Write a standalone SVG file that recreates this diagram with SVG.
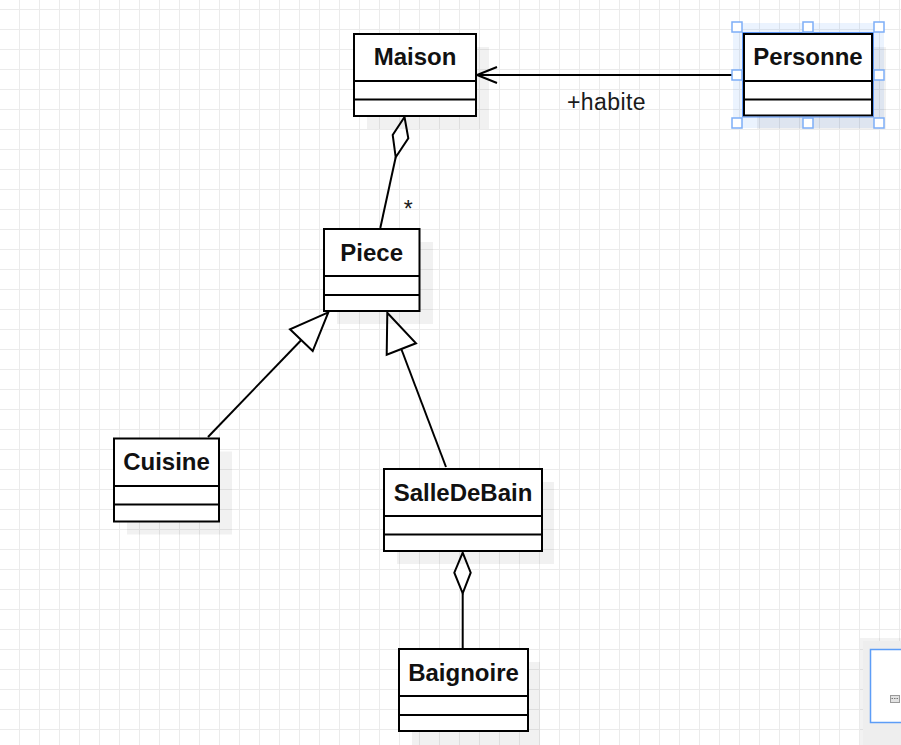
<svg xmlns="http://www.w3.org/2000/svg" width="901" height="745" viewBox="0 0 901 745">
<defs>
<pattern id="grid" patternUnits="userSpaceOnUse" x="0" y="0" width="20" height="20">
<path d="M19.5 0V20M0 9.5H20" stroke="#ebebeb" stroke-width="1" fill="none"/>
</pattern>
</defs>
<style>
.box{fill:#fff;stroke:#000;stroke-width:2}
.div{stroke:#000;stroke-width:2}
.sh{fill:#000;fill-opacity:0.055}
.t{font-family:"Liberation Sans",Arial,sans-serif;font-weight:bold;font-size:24px;text-anchor:middle;fill:#111}
.lbl{font-family:"Liberation Sans",Arial,sans-serif;font-size:23px;letter-spacing:0.4px;fill:#1a1a1a}
.c{stroke:#000;stroke-width:2;fill:none}
.open{fill:#fff;stroke:#000;stroke-width:2;stroke-linejoin:miter}
.h{fill:#fff;stroke:#7eaef7;stroke-width:1.5}
</style>
<rect width="901" height="745" fill="#fff"/>
<rect width="901" height="745" fill="url(#grid)"/>

<g id="connectors">
<line class="c" x1="733" y1="75" x2="477" y2="75"/>
<polyline class="c" points="497,67 477,75 497,83"/>
<line class="c" x1="395.7" y1="157.3" x2="380.3" y2="228"/>
<polygon class="open" points="404.5,117 392.7,135 395.7,157.3 408.3,138.3"/>
<line class="c" x1="301.3" y1="340" x2="208" y2="437"/>
<polygon class="open" points="328.3,312.3 290,329.3 312.7,351"/>
<line class="c" x1="401.3" y1="349" x2="446" y2="467"/>
<polygon class="open" points="387.3,312.7 386.7,354.7 416,343.3"/>
<line class="c" x1="462.7" y1="593.3" x2="462.7" y2="648"/>
<polygon class="open" points="462.7,552.7 454.3,572.7 462.7,593.3 470.7,572.7"/>
<text class="lbl" x="567" y="110">+habite</text>
<text class="lbl" x="408.3" y="217" style="font-size:23px;letter-spacing:0;text-anchor:middle">*</text>
</g>

<g id="Maison">
<rect class="sh" x="367" y="47" width="122" height="82"/>
<rect class="box" x="354" y="34" width="122" height="82"/>
<line class="div" x1="354" y1="81" x2="476" y2="81"/>
<line class="div" x1="354" y1="99.5" x2="476" y2="99.5"/>
<text class="t" x="415" y="65">Maison</text>
</g>

<g id="Personne">
<rect x="733" y="23" width="151" height="105" fill="#3d87f5" fill-opacity="0.1"/>
<rect class="sh" x="757" y="47" width="129" height="82"/>
<rect class="box" x="744" y="34" width="128" height="81.5" stroke-width="2.4"/>
<rect x="742.5" y="32.5" width="131" height="84.5" fill="none" stroke="#5b95f5" stroke-width="1"/>
<line class="div" x1="744" y1="81" x2="872" y2="81"/>
<line class="div" x1="744" y1="99.5" x2="872" y2="99.5"/>
<text class="t" x="808" y="65">Personne</text>
<rect class="h" x="732" y="22" width="10" height="10"/>
<rect class="h" x="803" y="22" width="10" height="10"/>
<rect class="h" x="874" y="22" width="10" height="10"/>
<rect class="h" x="732" y="70" width="10" height="10"/>
<rect class="h" x="874" y="70" width="10" height="10"/>
<rect class="h" x="732" y="118" width="10" height="10"/>
<rect class="h" x="803" y="118" width="10" height="10"/>
<rect class="h" x="874" y="118" width="10" height="10"/>
</g>

<g id="Piece">
<rect class="sh" x="337" y="242" width="96" height="82"/>
<rect class="box" x="324" y="229" width="95.5" height="82"/>
<line class="div" x1="324" y1="276" x2="419.5" y2="276"/>
<line class="div" x1="324" y1="295" x2="419.5" y2="295"/>
<text class="t" x="371.7" y="261">Piece</text>
</g>

<g id="Cuisine">
<rect class="sh" x="127" y="451.5" width="105" height="83"/>
<rect class="box" x="114" y="438.5" width="105" height="83"/>
<line class="div" x1="114" y1="486" x2="219" y2="486"/>
<line class="div" x1="114" y1="504.5" x2="219" y2="504.5"/>
<text class="t" x="166.5" y="470">Cuisine</text>
</g>

<g id="SalleDeBain">
<rect class="sh" x="397" y="482" width="157" height="82"/>
<rect class="box" x="384" y="469" width="158" height="82"/>
<line class="div" x1="384" y1="516" x2="542" y2="516"/>
<line class="div" x1="384" y1="534.5" x2="542" y2="534.5"/>
<text class="t" x="463" y="501">SalleDeBain</text>
</g>

<g id="Baignoire">
<rect class="sh" x="412" y="662" width="128" height="83"/>
<rect class="box" x="399" y="649" width="129" height="82"/>
<line class="div" x1="399" y1="696" x2="528" y2="696"/>
<line class="div" x1="399" y1="715" x2="528" y2="715"/>
<text class="t" x="463.5" y="681">Baignoire</text>
</g>

<g id="panel">
<rect x="860" y="638" width="50" height="115" fill="#000" fill-opacity="0.05"/>
<rect x="863" y="641" width="45" height="110" fill="#eeeeee"/>
<rect x="870.5" y="649.5" width="40" height="73" fill="#fff" stroke="#5c9df7" stroke-width="1.5"/>
<rect x="890.5" y="695.5" width="9" height="7" fill="#e2e2e2" stroke="#9a9a9a" stroke-width="1"/>
<line x1="891.5" y1="698.5" x2="899" y2="698.5" stroke="#777" stroke-width="1" stroke-dasharray="1.5 1"/>
</g>
</svg>
